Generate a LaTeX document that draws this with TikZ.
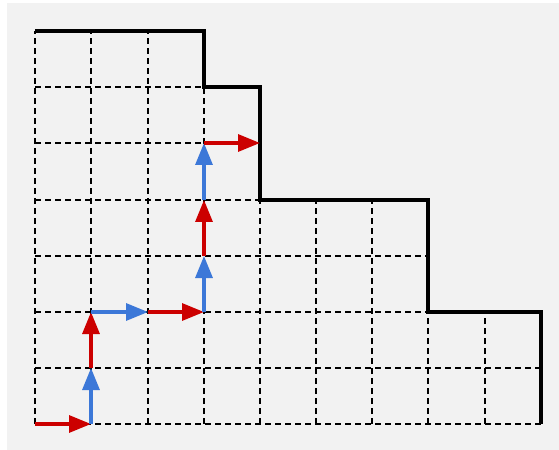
\documentclass[tikz,border=0pt]{standalone}
\usetikzlibrary{arrows.meta}
\definecolor{bg}{HTML}{F2F2F2}
\definecolor{pred}{HTML}{CC0000}
\definecolor{pblue}{HTML}{3C78D8}
\tikzset{
  gridline/.style={black, line width=2bp, dash pattern=on 6bp off 4bp},
  bound/.style={black, line width=3.5bp, line join=miter},
  redstep/.style={pred, line width=3.2bp, -{Triangle[length=22bp,width=17bp]}},
  bluestep/.style={pblue, line width=3.2bp, -{Triangle[length=22bp,width=17bp]}}
}
\begin{document}
\begin{tikzpicture}[x=1bp,y=-1bp]
\useasboundingbox (0,0) rectangle (559,450);
\fill[bg] (7,3) rectangle (559,450);
\foreach \xv [count=\i from 0] in {35,91,148,204,260,316,372,428,485,541} {
  \foreach \yv [count=\j from 0] in {424,368,312,256,200,143,87,31} {
    \coordinate (p\i\j) at (\xv,\yv);
  }
}
% vertical dashed lines
\foreach \i/\h in {0/7,1/7,2/7,3/7,4/6,5/4,6/4,7/4,8/2,9/2} {
  \draw[gridline] (p\i0) -- (p\i\h);
}
% horizontal dashed lines
\foreach \j/\w in {0/9,1/9,2/9,3/7,4/7,5/4,6/4,7/3} {
  \draw[gridline] (p0\j) -- (p\w\j);
}
% staircase boundary
\draw[bound] (p07) -- (p37) -- (p36) -- (p46) -- (p44) -- (p74) -- (p72) -- (p92) -- (p90);
% lattice path
\draw[redstep] (p00) -- (p10);
\draw[bluestep] (p10) -- (p11);
\draw[redstep] (p11) -- (p12);
\draw[bluestep] (p12) -- (p22);
\draw[redstep] (p22) -- (p32);
\draw[bluestep] (p32) -- (p33);
\draw[redstep] (p33) -- (p34);
\draw[bluestep] (p34) -- (p35);
\draw[redstep] (p35) -- (p45);
\end{tikzpicture}
\end{document}
